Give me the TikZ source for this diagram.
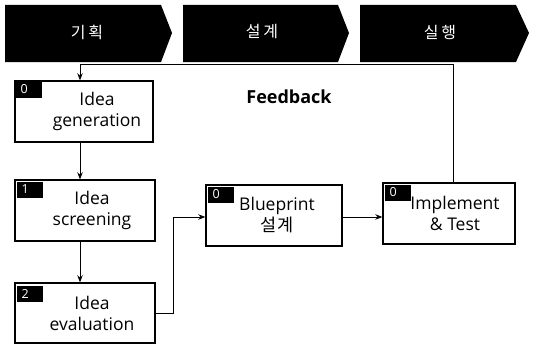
\documentclass[tikz,border=0pt]{standalone}
\usepackage{fontspec}
\setmainfont{Open Sans}
\newfontfamily\kr{Noto Sans CJK KR}
\usetikzlibrary{arrows.meta}
\tikzset{
  banner/.style={fill=black},
  bannertext/.style={text=white, font=\kr\fontsize{16}{18}\selectfont},
  box/.style={draw=black, line width=1.4pt, fill=white, inner sep=0pt},
  boxtext/.style={align=center, font=\fontsize{17.5}{21}\selectfont, inner sep=0pt},
  badge/.style={fill=black, anchor=north west, inner sep=0pt,
     minimum width=26pt, minimum height=16pt},
  badgenum/.style={text=white, anchor=west, inner sep=0pt, font=\fontsize{12.5}{13}\selectfont},
  conn/.style={line width=0.8pt, -{Stealth[length=7pt,width=5.5pt]}},
}
\begin{document}
\begin{tikzpicture}[x=1pt,y=-1pt]
\useasboundingbox (0,0) rectangle (534,345);
% banners
\fill[banner] (5,5) -- (161,5) -- (172,33) -- (161,62) -- (5,62) -- cycle;
\fill[banner] (183,5) -- (338,5) -- (349,33) -- (338,62) -- (183,62) -- cycle;
\fill[banner] (360,5) -- (516,5) -- (529,33) -- (516,62) -- (360,62) -- cycle;
\node[bannertext] (b1) at (87,32) {기\,획};
\node[bannertext] (b2) at (262,32) {설\,계};
\node[bannertext] (b3) at (440,32) {실\,행};
% boxes
\node[box, minimum width=138pt, minimum height=61pt] (n0) at (84,111.5) {};
\node[box, minimum width=140pt, minimum height=61pt] (n1) at (85,210.5) {};
\node[box, minimum width=140pt, minimum height=60pt] (n2) at (85,313) {};
\node[box, minimum width=136pt, minimum height=61pt] (n3) at (274,215.5) {};
\node[box, minimum width=132pt, minimum height=61pt] (n4) at (449,213.5) {};
% texts
\node[boxtext] (t0) at (97,111.5) {Idea\\generation};
\node[boxtext] (t1) at (92,210.5) {Idea\\screening};
\node[boxtext] (t2) at (92,313) {Idea\\evaluation};
\node[boxtext] (t3) at (277,215.5) {Blueprint\\{\kr 설계}};
\node[boxtext] (t4) at (455,213.5) {Implement\\\& Test};
% badges
\node[badge] (g0) at ([shift={(1,1)}]n0.north west) {};
\node[badge] (g1) at ([shift={(2,2)}]n1.north west) {};
\node[badge] (g2) at ([shift={(2,3)}]n2.north west) {};
\node[badge] (g3) at ([shift={(2,2)}]n3.north west) {};
\node[badge] (g4) at ([shift={(2,2)}]n4.north west) {};
\node[badgenum] (h0) at ([xshift=5pt]g0.west) {0};
\node[badgenum] (h1) at ([xshift=5pt]g1.west) {1};
\node[badgenum] (h2) at ([xshift=5pt]g2.west) {2};
\node[badgenum] (h3) at ([xshift=5pt]g3.west) {0};
\node[badgenum] (h4) at ([xshift=5pt]g4.west) {0};
% feedback label
\node[font=\bfseries\fontsize{18}{20}\selectfont] (fb) at (289,97) {Feedback};
% connectors
\draw[conn] (n0.south -| 80,0) -- (n1.north -| 80,0);
\draw[conn] (n1.south -| 80,0) -- (n2.north -| 80,0);
\coordinate (c1) at (173,313);
\coordinate (c2) at (173,217);
\draw[conn] (n2.east |- c1) -- (c1) -- (c2) -- (n3.west |- c2);
\draw[conn] (n3.east |- 0,217) -- (n4.west |- 0,217);
\coordinate (f1) at (453,64);
\coordinate (f2) at (80,64);
\draw[conn] (n4.north -| f1) -- (f1) -- (f2) -- (n0.north -| f2);
\end{tikzpicture}
\end{document}
